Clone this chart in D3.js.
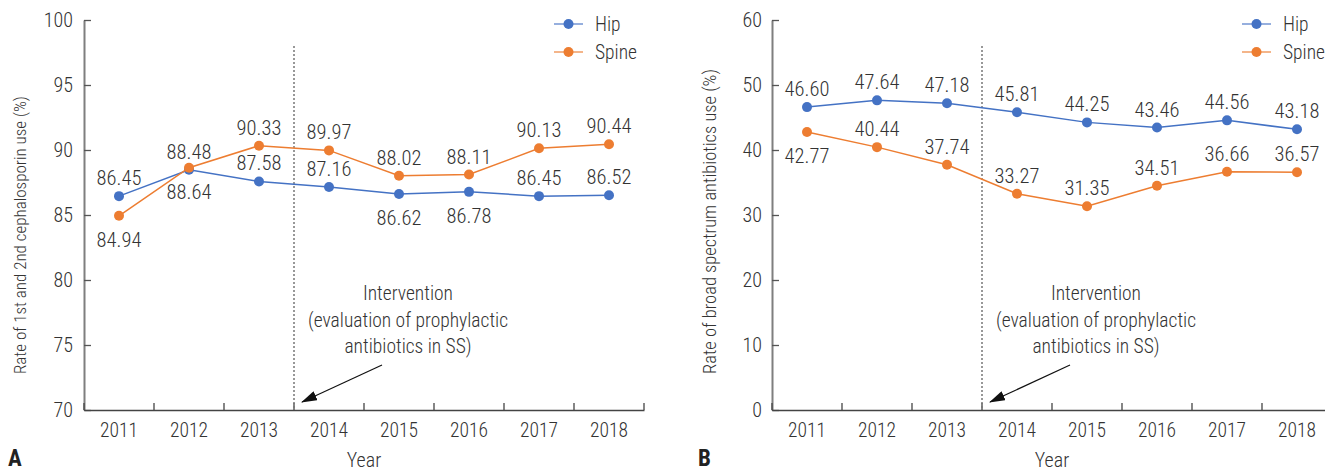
<!DOCTYPE html>
<html>
<head>
<meta charset="utf-8">
<script src="https://cdn.jsdelivr.net/npm/d3@7"></script>
<style>
  body { margin: 0; background: #fff; }
  svg text { font-family: 'Liberation Sans Narrow', 'Roboto Condensed', 'DejaVu Sans Condensed', sans-serif; fill: #333; font-weight: 300; }
</style>
</head>
<body>
<svg id="chart" width="1325" height="471"></svg>
<script>
const years = ['2011', '2012', '2013', '2014', '2015', '2016', '2017', '2018']
const seriesNames = ['Hip', 'Spine']

// panel A: 1st and 2nd cephalosporin use (%)
const hipCeph = [86.45, 88.48, 87.58, 87.16, 86.62, 86.78, 86.45, 86.52]
const spineCeph = [84.94, 88.64, 90.33, 89.97, 88.02, 88.11, 90.13, 90.44]
const cephTicks = [70, 75, 80, 85, 90, 95, 100]

// panel B: broad spectrum antibiotics use (%)
const hipBroad = [46.60, 47.64, 47.18, 45.81, 44.25, 43.46, 44.56, 43.18]
const spineBroad = [42.77, 40.44, 37.74, 33.27, 31.35, 34.51, 36.66, 36.57]
const broadTicks = [0, 10, 20, 30, 40, 50, 60]

const interventionYear = '2014'
const annotationLines = ['Intervention', '(evaluation of prophylactic', 'antibiotics in SS)']

// which side of the marker each value label sits on
const cephLabelSide = [
  ['up', 'up', 'up', 'up', 'down', 'down', 'up', 'up'],
  ['down', 'down', 'up', 'up', 'up', 'up', 'up', 'up']
]
const broadLabelSide = [
  ['up', 'up', 'up', 'up', 'up', 'up', 'up', 'up'],
  ['down', 'up', 'up', 'up', 'up', 'up', 'up', 'up']
]

const colors = ['#4472c4', '#ed7d31']
const fmt = d3.format('.2f')

const svg = d3.select('#chart')

svg.append('defs').append('marker')
  .attr('id', 'arrow')
  .attr('markerUnits', 'userSpaceOnUse')
  .attr('markerWidth', 16)
  .attr('markerHeight', 10)
  .attr('refX', 15)
  .attr('refY', 5)
  .attr('orient', 'auto')
  .append('path')
  .attr('d', 'M0,0L16,5L0,10Z')
  .attr('fill', '#111')

function drawPanel (opts) {
  const top = 20
  const bottom = 410
  const g = svg.append('g')

  const x = d3.scaleBand().domain(years).range([opts.x0, opts.x1])
  const y = d3.scaleLinear().domain(d3.extent(opts.ticks)).range([bottom, top])
  const cx = (d, i) => x(years[i]) + x.bandwidth() / 2

  // y axis
  const ya = g.append('g')
    .attr('transform', `translate(${opts.x0},0)`)
    .call(d3.axisLeft(y).tickValues(opts.ticks).tickSize(-7).tickSizeOuter(0).tickPadding(opts.pad))
  ya.select('.domain').attr('stroke', '#7f7f7f').attr('stroke-width', 2)
  ya.selectAll('.tick line').attr('stroke', '#555').attr('stroke-width', 1.3)
  ya.selectAll('.tick text').attr('font-size', 20)

  // x axis with ticks between categories
  const xa = g.append('g')
    .attr('transform', `translate(0,${bottom})`)
    .call(d3.axisBottom(x).tickSize(0).tickPadding(13))
  xa.select('.domain').attr('stroke', '#444').attr('stroke-width', 1.5)
  xa.selectAll('.tick text').attr('font-size', 19.5)
  g.selectAll('.xsep')
    .data(d3.range(years.length + 1))
    .enter()
    .append('line')
    .attr('x1', (i) => opts.x0 + i * x.step())
    .attr('x2', (i) => opts.x0 + i * x.step())
    .attr('y1', bottom)
    .attr('y2', bottom - 7)
    .attr('stroke', '#444')
    .attr('stroke-width', 1.3)

  // intervention divider
  const xd = x(interventionYear)
  g.append('line')
    .attr('x1', xd).attr('x2', xd)
    .attr('y1', top + 26).attr('y2', bottom)
    .attr('stroke', '#777')
    .attr('stroke-width', 1.5)
    .attr('stroke-dasharray', '2 2')

  // series
  opts.series.forEach((vals, s) => {
    const line = d3.line().x(cx).y((d) => y(d))
    g.append('path')
      .datum(vals)
      .attr('d', line)
      .attr('fill', 'none')
      .attr('stroke', colors[s])
      .attr('stroke-width', 1.5)
    g.selectAll('.dot' + s)
      .data(vals)
      .enter()
      .append('circle')
      .attr('cx', cx)
      .attr('cy', (d) => y(d))
      .attr('r', 5)
      .attr('fill', colors[s])
    g.selectAll('.lab' + s)
      .data(vals)
      .enter()
      .append('text')
      .attr('x', cx)
      .attr('y', (d, i) => opts.sides[s][i] === 'up' ? y(d) - 11 : y(d) + 31)
      .attr('text-anchor', 'middle')
      .attr('font-size', 20.5)
      .text((d) => fmt(d))
  })

  // legend
  const lg = g.append('g').attr('transform', `translate(${opts.x1 - 90},24)`)
  seriesNames.forEach((name, s) => {
    const row = lg.append('g').attr('transform', `translate(0,${s * 28})`)
    row.append('line').attr('x1', 0).attr('x2', 29)
      .attr('stroke', colors[s]).attr('stroke-width', 1.5).attr('opacity', 0.75)
    row.append('circle').attr('cx', 14.5).attr('r', 5).attr('fill', colors[s])
    row.append('text').attr('x', 41).attr('dy', '0.35em').attr('font-size', 19.5).text(name)
  })

  // annotation
  g.selectAll('.note')
    .data(annotationLines)
    .enter()
    .append('text')
    .attr('x', xd + 114)
    .attr('y', (d, i) => 300 + i * 26.5)
    .attr('text-anchor', 'middle')
    .attr('font-size', 19.5)
    .text((d) => d)
  g.append('line')
    .attr('x1', xd + 88).attr('y1', 365)
    .attr('x2', xd + 8).attr('y2', 402)
    .attr('stroke', '#111')
    .attr('stroke-width', 1.2)
    .attr('marker-end', 'url(#arrow)')

  // axis titles
  g.append('text')
    .attr('transform', 'rotate(-90)')
    .attr('x', -374)
    .attr('y', opts.titleX)
    .attr('text-anchor', 'start')
    .attr('font-size', opts.titleSize)
    .text(opts.title)
  g.append('text')
    .attr('x', (opts.x0 + opts.x1) / 2)
    .attr('y', 467)
    .attr('text-anchor', 'middle')
    .attr('font-size', 20)
    .text('Year')
  g.append('text')
    .attr('x', opts.letterX)
    .attr('y', 466)
    .attr('font-size', 23)
    .style('font-weight', 'bold')
    .style('fill', '#222')
    .text(opts.letter)
}

drawPanel({
  x0: 84, x1: 644, pad: 11,
  ticks: cephTicks,
  series: [hipCeph, spineCeph],
  sides: cephLabelSide,
  title: 'Rate of 1st and 2nd cephalosporin use (%)',
  titleX: 26, titleSize: 17, letter: 'A', letterX: 8
})
drawPanel({
  x0: 772, x1: 1332, pad: 10,
  ticks: broadTicks,
  series: [hipBroad, spineBroad],
  sides: broadLabelSide,
  title: 'Rate of broad spectrum antibiotics use (%)',
  titleX: 716, titleSize: 18.5, letter: 'B', letterX: 698
})
</script>
</body>
</html>
